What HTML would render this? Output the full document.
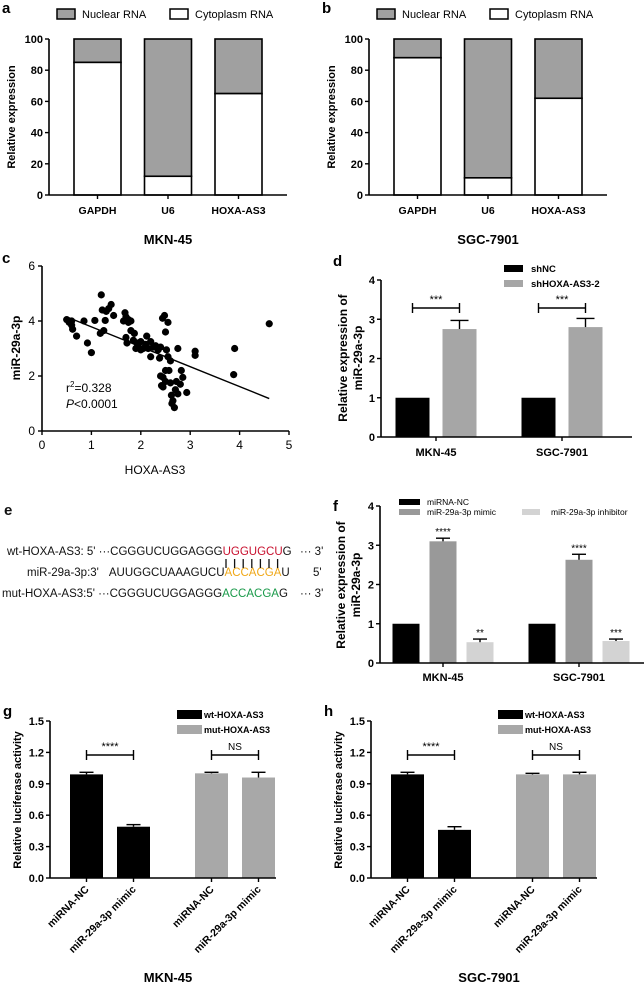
<!DOCTYPE html>
<html><head><meta charset="utf-8"><style>
body{margin:0;background:#fff;}
svg{display:block;font-family:"Liberation Sans",Arial,sans-serif;}
.b{font-weight:bold;}
</style></head><body>
<svg id="fig" width="644" height="990" viewBox="0 0 644 990" xmlns="http://www.w3.org/2000/svg">
<g id="root"></g>
<!-- panel e: sequence alignment -->
<g font-size="11.5" fill="#111">
<text x="4" y="515" font-size="15" class="b">e</text>
<text x="7" y="555">wt-HOXA-AS3: 5' ···CGGGUCUGGAGGG<tspan fill="#c8102e">UGGUGCU</tspan>G</text>
<text x="300" y="555">··· 3'</text>
<text x="27" y="576">miR-29a-3p:3'<tspan dx="10">AUUGGCUAAAGUCU</tspan><tspan fill="#f0a818">ACCACGA</tspan>U</text>
<text x="313" y="576">5'</text>
<text x="2" y="597">mut-HOXA-AS3:5' ···CGGGUCUGGAGGG<tspan fill="#1a9a4a">ACCACGA</tspan>G</text>
<text x="300" y="597">··· 3'</text>
<g id="pairs" stroke="#111" stroke-width="1.3"></g>
</g>
</svg>
<script>
const NS="http://www.w3.org/2000/svg";
const root=document.getElementById('root');
function el(tag,attrs,parent,txt){const e=document.createElementNS(NS,tag);for(const k in attrs)e.setAttribute(k,attrs[k]);if(txt!==undefined)e.textContent=txt;(parent||root).appendChild(e);return e;}

// ---------- data ----------
const aCats=["GAPDH","U6","HOXA-AS3"];
const aCyto=[85,12,65];
const bCyto=[88,11,62];
const stackTicks=[0,20,40,60,80,100];

const cX=[0.5,0.55,0.6,0.6,0.62,0.7,0.85,0.92,1.0,1.07,1.18,1.2,1.22,1.25,1.28,1.3,1.35,1.4,1.45,1.65,1.68,1.7,1.7,1.72,1.75,1.8,1.8,1.85,1.87,1.9,1.92,1.95,2.0,2.05,2.1,2.12,2.15,2.2,2.2,2.25,2.3,2.35,2.38,2.4,2.4,2.42,2.44,2.45,2.48,2.5,2.5,2.5,2.52,2.55,2.55,2.57,2.6,2.6,2.62,2.63,2.65,2.68,2.7,2.72,2.75,2.75,2.8,2.82,2.85,2.93,3.1,3.1,3.9,3.88,4.6,2.0,2.45,1.75];
const cY=[4.05,3.95,4.0,3.85,3.7,3.45,4.0,3.2,2.85,4.02,3.55,4.95,4.4,3.65,4.02,4.35,4.45,4.6,4.2,4.0,4.3,4.15,3.4,3.2,4.05,4.0,3.65,3.3,3.55,3.0,3.2,3.05,3.25,3.0,3.15,3.45,3.0,2.7,3.25,3.05,3.1,2.95,2.65,3.05,2.0,1.65,4.1,1.6,4.2,3.6,2.2,1.8,2.95,3.95,2.7,2.2,1.75,2.55,1.3,1.0,1.1,0.85,1.5,1.8,1.35,3.0,1.7,2.2,1.95,1.4,2.9,2.75,3.0,2.05,3.9,2.95,1.95,3.95];
const cFitX=[0.5,4.6], cFitY=[4.15,1.18];
const cXTicks=[0,1,2,3,4,5], cYTicks=[0,2,4,6];

const dGroups=["MKN-45","SGC-7901"];
const dSeries=["shNC","shHOXA-AS3-2"];
const dVals=[[1,1],[2.75,2.8]];
const dErr=[[0.01,0.01],[0.22,0.22]];
const dTicks=[0,1,2,3,4];

const fSeries=["miRNA-NC","miR-29a-3p mimic","miR-29a-3p inhibitor"];
const fVals=[[1,1],[3.1,2.63],[0.53,0.56]];
const fErr=[[0.01,0.01],[0.08,0.14],[0.08,0.05]];
const fStars=[["",""],["****","****"],["**","***"]];

const gCats=["miRNA-NC","miR-29a-3p mimic","miRNA-NC","miR-29a-3p mimic"];
const gVals=[0.99,0.49,1.0,0.96];
const gErr=[0.02,0.02,0.01,0.05];
const hVals=[0.99,0.46,0.99,0.99];
const hErr=[0.02,0.03,0.01,0.02];
const gTicks=[0,0.3,0.6,0.9,1.2,1.5];
const gTickLbl=["0.0","0.3","0.6","0.9","1.2","1.5"];

function lin(d0,d1,r0,r1){return v=>r0+(v-d0)/(d1-d0)*(r1-r0);}
function yAxis(g,x,y0,y1,ticks,sc,lbls){el('line',{x1:x,y1:y0,x2:x,y2:y1,stroke:'#000','stroke-width':1.6},g);
 ticks.forEach((t,i)=>{const y=sc(t);el('line',{x1:x-4,y1:y,x2:x,y2:y,stroke:'#000','stroke-width':1.4},g);
 el('text',{x:x-6,y:y+4,'text-anchor':'end','font-size':11,'font-weight':'bold'},g,lbls?lbls[i]:String(t));});}
function label(g,x,y,t){el('text',{x:x,y:y,'font-size':15,'font-weight':'bold'},g,t);}
function vtitle(g,x,y,t,fs){el('text',{x:x,y:y,'text-anchor':'middle','font-size':fs||11,'font-weight':'bold',transform:`rotate(-90 ${x} ${y})`},g,t);}

// ---------- panels a & b ----------
function stacked(ox,vals,name,title,lbl){
 const g=el('g',{});
 label(g,ox+2,13,lbl);
 const ax=ox+49, sy=lin(0,100,195,39);
 el('rect',{x:ox+57,y:9,width:18,height:10,fill:'#a0a0a0',stroke:'#000','stroke-width':1.5},g);
 el('text',{x:ox+82,y:18,'font-size':11},g,'Nuclear RNA');
 el('rect',{x:ox+170,y:9,width:18,height:10,fill:'#fff',stroke:'#000','stroke-width':1.5},g);
 el('text',{x:ox+195,y:18,'font-size':11},g,'Cytoplasm RNA');
 vals.forEach((v,i)=>{const bx=ox+74+i*70.5;
  const nb=el('rect',{x:bx,y:sy(100),width:47,height:sy(v)-sy(100),fill:'#a0a0a0',stroke:'#000','stroke-width':1.6},g);
  
  const cb=el('rect',{x:bx,y:sy(v),width:47,height:sy(0)-sy(v),fill:'#fff',stroke:'#000','stroke-width':1.6},g);
  
  el('line',{x1:bx+23.5,y1:195,x2:bx+23.5,y2:199,stroke:'#000','stroke-width':1.4},g);
  el('text',{x:bx+23.5,y:214,'text-anchor':'middle','font-size':10.5,'font-weight':'bold'},g,aCats[i]);});
 el('line',{x1:ax,y1:195,x2:ox+287,y2:195,stroke:'#000','stroke-width':1.6},g);
 yAxis(g,ax,39,195,stackTicks,sy);
 vtitle(g,ox+15,117,'Relative expression');
 el('text',{x:ox+168,y:244,'text-anchor':'middle','font-size':13,'font-weight':'bold'},g,title);
}
stacked(0,aCyto,'panel-a','MKN-45','a');
stacked(320,bCyto,'panel-b','SGC-7901','b');

// ---------- panel c ----------
(function(){const g=el('g',{});
 label(g,2,263,'c');
 const sx=lin(0,5,42,289), sy=lin(0,6,431,266);
 el('line',{x1:42,y1:431,x2:289,y2:431,stroke:'#000','stroke-width':1.6},g);
 cXTicks.forEach(t=>{el('line',{x1:sx(t),y1:431,x2:sx(t),y2:435,stroke:'#000','stroke-width':1.4},g);
  el('text',{x:sx(t),y:449,'text-anchor':'middle','font-size':12},g,String(t));});
 el('line',{x1:42,y1:266,x2:42,y2:431,stroke:'#000','stroke-width':1.6},g);
 cYTicks.forEach(t=>{el('line',{x1:38,y1:sy(t),x2:42,y2:sy(t),stroke:'#000','stroke-width':1.4},g);
  el('text',{x:35,y:sy(t)+4,'text-anchor':'end','font-size':12},g,String(t));});
 vtitle(g,20,348,'miR-29a-3p',12);
 el('text',{x:155,y:474,'text-anchor':'middle','font-size':12},g,'HOXA-AS3');
 cX.forEach((x,i)=>{const c=el('circle',{cx:sx(x),cy:sy(cY[i]),r:3.6,fill:'#000'},g);
  });
 const fl=el('line',{x1:sx(cFitX[0]),y1:sy(cFitY[0]),x2:sx(cFitX[1]),y2:sy(cFitY[1]),stroke:'#000','stroke-width':1.4},g);
 
 const t1=el('text',{x:66,y:392,'font-size':12},g);t1.innerHTML='r<tspan dy="-5" font-size="8">2</tspan><tspan dy="5">=0.328</tspan>';
 const t2=el('text',{x:66,y:408,'font-size':12},g);t2.innerHTML='<tspan font-style="italic">P</tspan>&lt;0.0001';
})();

function errbar(g,cx,v,e,sy,w){const y1=sy(v+e);el('line',{x1:cx,y1:sy(v),x2:cx,y2:y1,stroke:'#000','stroke-width':1.4},g);
 el('line',{x1:cx-w,y1:y1,x2:cx+w,y2:y1,stroke:'#000','stroke-width':1.4},g);}
function bracket(g,x1,x2,y,txt){el('line',{x1:x1,y1:y,x2:x2,y2:y,stroke:'#000','stroke-width':1.4},g);
 el('line',{x1:x1,y1:y-5,x2:x1,y2:y+5,stroke:'#000','stroke-width':1.4},g);
 el('line',{x1:x2,y1:y-5,x2:x2,y2:y+5,stroke:'#000','stroke-width':1.4},g);
 el('text',{x:(x1+x2)/2,y:y-5,'text-anchor':'middle','font-size':txt==='NS'?10:11},g,txt);}

// ---------- panel d ----------
(function(){const g=el('g',{});
 label(g,333,266,'d');
 const sy=lin(0,4,437,280), cols=['#000','#a6a6a6'], centers=[436,562];
 el('rect',{x:504,y:265,width:19,height:7,fill:'#000'},g);el('text',{x:531,y:272,'font-size':9.5,'font-weight':'bold'},g,dSeries[0]);
 el('rect',{x:504,y:280,width:19,height:7,fill:'#a6a6a6'},g);el('text',{x:531,y:287,'font-size':9.5,'font-weight':'bold'},g,dSeries[1]);
 dGroups.forEach((gn,gi)=>{[0,1].forEach(s=>{const cx=centers[gi]+(s?23.5:-23.5);
  const r=el('rect',{x:cx-17,y:sy(dVals[s][gi]),width:34,height:sy(0)-sy(dVals[s][gi]),fill:cols[s]},g);
  
  if(s)errbar(g,cx,dVals[s][gi],dErr[s][gi],sy,9);});
  bracket(g,centers[gi]-23.5,centers[gi]+23.5,308,'***');
  el('line',{x1:centers[gi],y1:437,x2:centers[gi],y2:441,stroke:'#000','stroke-width':1.4},g);
  el('text',{x:centers[gi],y:456,'text-anchor':'middle','font-size':11,'font-weight':'bold'},g,gn);});
 el('line',{x1:381,y1:437,x2:632,y2:437,stroke:'#000','stroke-width':1.6},g);
 yAxis(g,381,280,437,dTicks,sy);
 vtitle(g,347,358,'Relative expression of',12);vtitle(g,362,358,'miR-29a-3p',12);
})();

// ---------- panel f ----------
(function(){const g=el('g',{});
 label(g,333,511,'f');
 const sy=lin(0,4,663,506), cols=['#000','#999','#d3d3d3'], centers=[443,579];
 el('rect',{x:399,y:499,width:21,height:6,fill:'#000'},g);el('text',{x:427,y:505,'font-size':8.5},g,fSeries[0]);
 el('rect',{x:399,y:509,width:21,height:6,fill:'#999'},g);el('text',{x:427,y:515,'font-size':8.5},g,fSeries[1]);
 el('rect',{x:522,y:509,width:18,height:6,fill:'#d3d3d3'},g);el('text',{x:551,y:515,'font-size':8.5},g,fSeries[2]);
 dGroups.forEach((gn,gi)=>{[0,1,2].forEach(s=>{const cx=centers[gi]+(s-1)*37;
  const r=el('rect',{x:cx-13.5,y:sy(fVals[s][gi]),width:27,height:sy(0)-sy(fVals[s][gi]),fill:cols[s]},g);
  
  if(s)errbar(g,cx,fVals[s][gi],fErr[s][gi],sy,7);
  if(fStars[s][gi])el('text',{x:cx,y:sy(fVals[s][gi]+fErr[s][gi])-3,'text-anchor':'middle','font-size':10},g,fStars[s][gi]);});
  el('line',{x1:centers[gi],y1:663,x2:centers[gi],y2:667,stroke:'#000','stroke-width':1.4},g);
  el('text',{x:centers[gi],y:681,'text-anchor':'middle','font-size':11,'font-weight':'bold'},g,gn);});
 el('line',{x1:380,y1:663,x2:644,y2:663,stroke:'#000','stroke-width':1.6},g);
 yAxis(g,380,506,663,dTicks,sy);
 vtitle(g,345,585,'Relative expression of',12);vtitle(g,360,585,'miR-29a-3p',12);
})();

// ---------- panels g & h ----------
function lucif(ox,vals,errs,name,lbl,title){const g=el('g',{});
 label(g,ox+3,716,lbl);
 const ax=ox+50, sy=lin(0,1.5,878,721), xs=[86.5,133.5,211.5,258.5];
 el('rect',{x:ox+177,y:710,width:25,height:9,fill:'#000'},g);el('text',{x:ox+204,y:718,'font-size':9,'font-weight':'bold'},g,'wt-HOXA-AS3');
 el('rect',{x:ox+177,y:725,width:25,height:9,fill:'#a8a8a8'},g);el('text',{x:ox+204,y:733,'font-size':9,'font-weight':'bold'},g,'mut-HOXA-AS3');
 vals.forEach((v,i)=>{const cx=ox+xs[i];
  const r=el('rect',{x:cx-16.5,y:sy(v),width:33,height:sy(0)-sy(v),fill:i<2?'#000':'#a8a8a8'},g);
  
  errbar(g,cx,v,errs[i],sy,7);
  el('line',{x1:cx,y1:878,x2:cx,y2:882,stroke:'#000','stroke-width':1.4},g);
  el('text',{x:cx+3,y:890,'text-anchor':'end','font-size':10.5,'font-weight':'bold',transform:`rotate(-45 ${cx+3} 890)`},g,gCats[i]);});
 bracket(g,ox+xs[0],ox+xs[1],755,'****');bracket(g,ox+xs[2],ox+xs[3],755,'NS');
 el('line',{x1:ax,y1:878,x2:ox+276,y2:878,stroke:'#000','stroke-width':1.6},g);
 yAxis(g,ax,721,878,gTicks,sy,gTickLbl);
 vtitle(g,ox+21,800,'Relative luciferase activity',11);
 el('text',{x:ox+168,y:982,'text-anchor':'middle','font-size':13,'font-weight':'bold'},g,title);
}
lucif(0,gVals,gErr,'panel-g','g','MKN-45');
lucif(321,hVals,hErr,'panel-h','h','SGC-7901');

const pg=document.getElementById('pairs');
for(let i=0;i<7;i++){const x=226+i*8.6;el('line',{x1:x,y1:559,x2:x,y2:568},pg);}
</script>
</body></html>
